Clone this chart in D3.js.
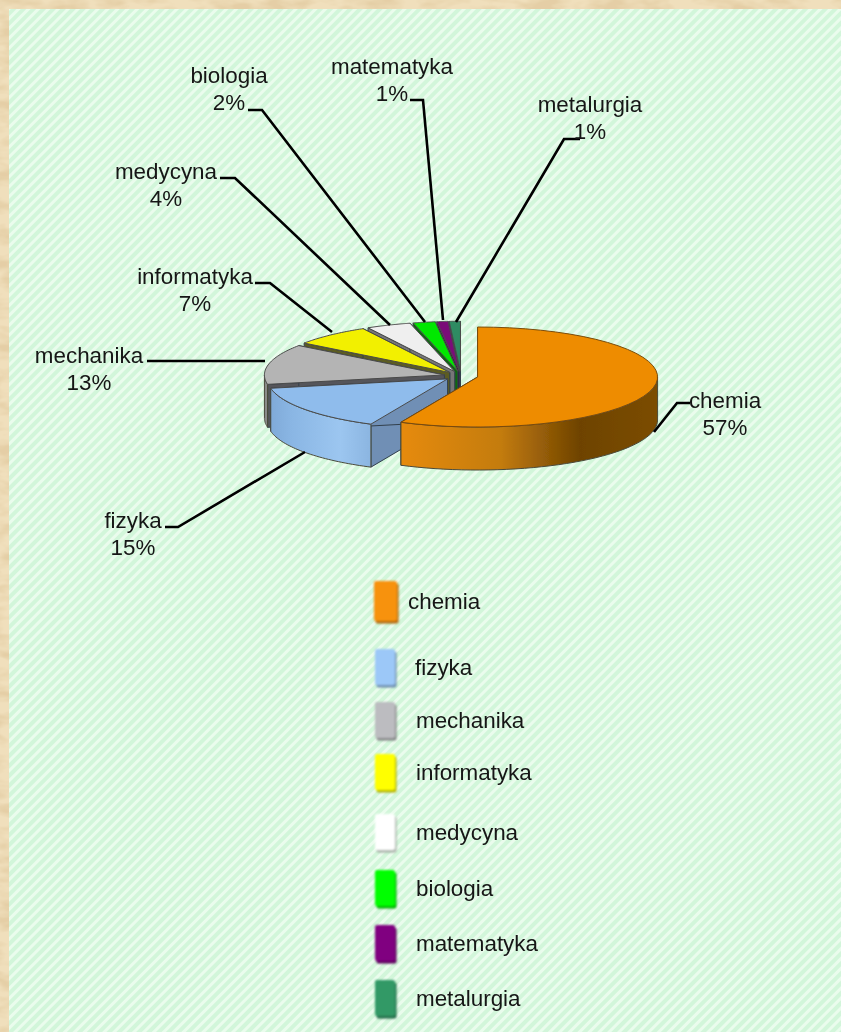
<!DOCTYPE html>
<html><head><meta charset="utf-8">
<script src="https://cdn.jsdelivr.net/npm/d3@7"></script>
<style>html,body{margin:0;padding:0;background:#e8d4aa}svg{display:block}</style>
</head><body><div id="chart"></div>
<script>
const categories = ["chemia","fizyka","mechanika","informatyka","medycyna","biologia","matematyka","metalurgia"];
const values = [57,15,13,7,4,2,1,1];
const topColors = ["#ee8c06","#8fbcec","#b4b4b4","#f2f000","#efefef","#00e800","#7a0a78","#2e8b62"];
const wallColors = ["#6b4200","#6f8fb5","#8a8a8a","#5c5c20","#777777","#0a6a0a","#3c0a3c","#1c5a3c"];
const legendColors = ["#f7920f","#9cc8f8","#bcbcc0","#ffff00","#ffffff","#00ff00","#800080","#339966"];
const legendY = [601,667,720,772,832,888,943,998];
const legendSwatchX = [374,375,375,375,375,375,375,375];
const legendTextX = [408,415,416,416,416,416,416,416];
const labelAnchors = [[725,408],[133,528],[89,363],[195,284],[166,179],[229,83],[392,74],[590,112]];
const leaderPaths = [
  [[690,403],[677,403],[654,432]],
  [[165,527],[178,527],[305,452]],
  [[147,361],[265,361]],
  [[255,283],[270,283],[332,332]],
  [[220,178],[235,178],[390,325]],
  [[248,110],[262,110],[425,322]],
  [[410,100],[423,100],[443,320]],
  [[580,139],[564,139],[456,322]]
];

const W=841,H=1032;
const svg=d3.select("#chart").append("svg").attr("width",W).attr("height",H);
const defs=svg.append("defs");

const tex=defs.append("filter").attr("id","parch").attr("x",0).attr("y",0).attr("width","100%").attr("height","100%");
tex.append("feTurbulence").attr("type","fractalNoise").attr("baseFrequency","0.03 0.07").attr("numOctaves",3).attr("seed",7).attr("result","n");
tex.append("feColorMatrix").attr("in","n").attr("type","matrix")
  .attr("values","0 0 0 0 0.78  0 0 0 0 0.62  0 0 0 0 0.38  3 0 0 0 -1.2");
const pat=defs.append("pattern").attr("id","stripes").attr("width",7).attr("height",7)
  .attr("patternUnits","userSpaceOnUse").attr("patternTransform","rotate(45)");
pat.append("rect").attr("width",7).attr("height",7).attr("fill","#eafced");
pat.append("rect").attr("width",4).attr("height",7).attr("fill","#d2f6da");
const soft=defs.append("filter").attr("id","soft").attr("x","-5%").attr("y","-5%").attr("width","110%").attr("height","110%");
soft.append("feGaussianBlur").attr("stdDeviation",0.5);
const softer=defs.append("filter").attr("id","swatch").attr("x","-20%").attr("y","-20%").attr("width","140%").attr("height","140%");
softer.append("feGaussianBlur").attr("stdDeviation",0.8);
const txt=defs.append("filter").attr("id","txt").attr("x","-2%").attr("y","-2%").attr("width","104%").attr("height","104%");
txt.append("feGaussianBlur").attr("stdDeviation",0.3);

function hGrad(id,stops){
  const g=defs.append("linearGradient").attr("id",id).attr("gradientUnits","userSpaceOnUse")
    .attr("x1",260).attr("x2",660).attr("y1",0).attr("y2",0);
  stops.forEach(s=>g.append("stop").attr("offset",s[0]).attr("stop-color",s[1]));
}
hGrad("wall0",[[0,"#ee8c10"],[0.36,"#e58a0c"],[0.6,"#c47c10"],[0.8,"#6e4300"],[1,"#7c4d04"]]);
hGrad("wall1",[[0,"#7aa4d2"],[0.08,"#8ab6e4"],[0.2,"#9cc6f0"],[0.3,"#86b0dc"],[1,"#86b0dc"]]);

svg.append("rect").attr("width",W).attr("height",H).attr("fill","#f0dfbc");
svg.append("rect").attr("width",W).attr("height",H).attr("filter","url(#parch)");
svg.append("rect").attr("x",9).attr("y",9).attr("width",W-9).attr("height",H-9).attr("fill","url(#stripes)");

// pie geometry
const cx=461, cy=376, rx=180, ry=50, depth=43, explode=17;
const k=ry/rx;
const arcs=d3.pie().sort(null).value(d=>d).startAngle(0).endAngle(2*Math.PI)(values);
const pt=(c,a)=>[c[0]+rx*Math.sin(a),c[1]-ry*Math.cos(a)];
const arcPts=(c,a0,a1)=>d3.range(0,41).map(i=>pt(c,a0+(a1-a0)*i/40));
const line=d3.line();
const pie=svg.append("g").attr("filter","url(#soft)");
const order=d3.range(arcs.length).reverse();

order.forEach(i=>{
  const a=arcs[i], mid=(a.startAngle+a.endAngle)/2;
  const c=[cx+explode*Math.sin(mid), cy-explode*k*Math.cos(mid)];
  const g=pie.append("g").attr("class","slice").attr("data-name",categories[i]);
  const low=p=>[p[0],p[1]+depth];
  [a.startAngle,a.endAngle].forEach(r=>{
    const e=pt(c,r);
    g.append("path").attr("d",line([c,e,low(e),low(c)])+"Z")
      .attr("fill",i===2?"#55555a":wallColors[i]).attr("stroke","#33404c").attr("stroke-width",1);
  });
  const v0=Math.max(a.startAngle,Math.PI/2), v1=Math.min(a.endAngle,3*Math.PI/2);
  if(v1>v0){
    const o=arcPts(c,v0,v1);
    g.append("path").attr("d",line(o.concat(o.map(low).reverse()))+"Z")
      .attr("fill",i<2?`url(#wall${i})`:wallColors[i]).attr("stroke","#4a4a3a").attr("stroke-width",1);
  }
  g.append("path").attr("d",line([c].concat(arcPts(c,a.startAngle,a.endAngle)))+"Z")
    .attr("fill",topColors[i]).attr("stroke",i<1?"#7a4a08":"#4a4a4a").attr("stroke-width",1);
});

// leaders
const leaders=svg.append("g").attr("filter","url(#txt)");
leaderPaths.forEach(p=>leaders.append("path").attr("d",line(p)).attr("fill","none")
  .attr("stroke","#000").attr("stroke-width",2.6).attr("stroke-linejoin","miter"));

const font="'Liberation Sans', Arial, sans-serif";
const labels=svg.append("g").attr("font-family",font).attr("font-size",22.4).attr("fill","#141414").attr("filter","url(#txt)");
categories.forEach((n,i)=>{
  const [x,y]=labelAnchors[i];
  labels.append("text").attr("x",x).attr("y",y).attr("text-anchor","middle").text(n);
  labels.append("text").attr("x",x).attr("y",y+27).attr("text-anchor","middle").text(values[i]+"%");
});

// legend
const legend=svg.append("g");
categories.forEach((n,i)=>{
  const y=legendY[i], x=legendSwatchX[i], w=i===0?23:20, h=i===0?40:36;
  const s=legend.append("g").attr("filter","url(#swatch)");
  s.append("rect").attr("x",x+1.5).attr("y",y-h/2+2.5).attr("width",w).attr("height",h)
    .attr("fill",i===4?"#a8b0a8":d3.color(legendColors[i]).darker(1).formatHex()).attr("rx",2);
  s.append("rect").attr("x",x).attr("y",y-h/2).attr("width",w).attr("height",h).attr("fill",legendColors[i]).attr("rx",2);
  legend.append("text").attr("x",legendTextX[i]).attr("y",y+8).attr("font-family",font).attr("font-size",22.4)
    .attr("fill","#141414").attr("filter","url(#txt)").text(n);
});
</script></body></html>
